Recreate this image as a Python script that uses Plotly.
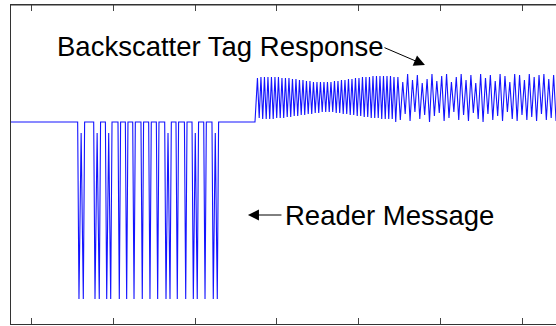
import plotly.graph_objects as go

# ---- data (time in arbitrary units, amplitude in arbitrary units) ----
t_start = 75.0
t_end = 741.3
level_idle = 2.02          # carrier level when idle
level_low = 0.25           # bottom of reader dips
level_mid = 1.91           # rebound inside wide dips

# reader message dips: (first stroke time, second stroke time or None)
reader_dips = [
    (158.1, 163.4), (177.7, 182.9), (192.0, 196.9), (207.4, None), (216.4, None),
    (225.4, None), (235.5, None), (244.9, None), (254.3, None), (264.5, 269.4),
    (278.3, None), (288.6, None), (297.9, 302.7), (312.2, None), (322.3, 327.2),
]
dip_half = 1.6

tag_start = 373.3
# segment A (dense subcarrier)
A_t0, A_period = 376.3, 4.28
A_peaks = [2.46, 2.47, 2.47, 2.47, 2.47, 2.47, 2.47, 2.46, 2.46, 2.46, 2.45, 2.45, 2.44, 2.44,
           2.43, 2.43, 2.42, 2.42, 2.42, 2.42, 2.42, 2.42, 2.43, 2.43, 2.44, 2.44, 2.45, 2.45,
           2.46, 2.46, 2.47, 2.47, 2.47, 2.48, 2.48, 2.48, 2.48, 2.48, 2.48, 2.47]
A_troughs = [2.06, 2.05, 2.05, 2.05, 2.05, 2.06, 2.06, 2.06, 2.07, 2.07, 2.08, 2.08, 2.09, 2.09,
             2.10, 2.10, 2.11, 2.11, 2.12, 2.12, 2.12, 2.12, 2.11, 2.11, 2.10, 2.10, 2.09, 2.09,
             2.08, 2.08, 2.07, 2.07, 2.06, 2.06, 2.06, 2.05, 2.05, 2.05, 2.05, 2.02]
# segment B (irregular)
B_t0, B_period = 548.0, 5.95
B_peaks = [2.47, 2.42, 2.50, 2.44, 2.49, 2.41, 2.45, 2.50, 2.43, 2.48, 2.50, 2.42, 2.47, 2.50,
           2.44, 2.49, 2.41, 2.50, 2.46, 2.49, 2.43, 2.50, 2.48, 2.42, 2.50, 2.49, 2.44, 2.50,
           2.47, 2.49, 2.50, 2.45, 2.49]
B_troughs = [2.04, 2.10, 2.03, 2.12, 2.05, 2.09, 2.02, 2.08, 2.11, 2.03, 2.06, 2.12, 2.04, 2.09,
             2.03, 2.11, 2.05, 2.02, 2.10, 2.04, 2.08, 2.03, 2.12, 2.05, 2.03, 2.09, 2.04, 2.07,
             2.03, 2.10, 2.04, 2.06, 2.03]

x_ticks = [100, 200, 300, 400, 500, 600, 700]

# ---- build the trace ----
xs, ys = [t_start], [level_idle]
for a, b in reader_dips:
    if b is None:
        xs += [a - dip_half, a, a + dip_half]
        ys += [level_idle, level_low, level_idle]
    else:
        xs += [a - dip_half, a, (a + b) / 2, b, b + dip_half]
        ys += [level_idle, level_low, level_mid, level_low, level_idle]
xs.append(tag_start)
ys.append(level_idle)
for i, (p, q) in enumerate(zip(A_peaks, A_troughs)):
    t = A_t0 + i * A_period
    xs += [t, t + A_period / 2]
    ys += [p, q]
for i, (p, q) in enumerate(zip(B_peaks, B_troughs)):
    t = B_t0 + i * B_period
    xs += [t, t + B_period / 2]
    ys += [p, q]

fig = go.Figure()
fig.add_trace(go.Scatter(x=xs, y=ys, mode="lines",
                         line=dict(color="rgb(20,20,255)", width=1.1), hoverinfo="skip"))

font = dict(family="Liberation Sans, Arial, sans-serif", size=27.5, color="black")
fig.add_annotation(x=129, y=2.78, xref="x", yref="y", text="Backscatter Tag Response",
                   showarrow=False, xanchor="left", yanchor="middle", font=font)
fig.add_annotation(x=408, y=1.09, xref="x", yref="y", text="Reader Message",
                   showarrow=False, xanchor="left", yanchor="middle", font=font)
fig.add_annotation(x=581.1, y=2.59, ax=529.8, ay=2.77, xref="x", yref="y", axref="x", ayref="y",
                   text="", showarrow=True, arrowhead=2, arrowsize=2.2, arrowwidth=1,
                   arrowcolor="black", standoff=0, startstandoff=0)
fig.add_annotation(x=364.7, y=1.09, ax=407.5, ay=1.09, xref="x", yref="y", axref="x", ayref="y",
                   text="", showarrow=True, arrowhead=2, arrowsize=2.2, arrowwidth=1,
                   arrowcolor="black", standoff=0, startstandoff=0)

# top border of the axes box
fig.add_shape(type="line", xref="paper", yref="paper", x0=0, x1=1, y0=1, y1=1,
              line=dict(color="#333333", width=1), layer="above")

fig.update_xaxes(range=[t_start, t_end], tickvals=x_ticks, showticklabels=False,
                 ticks="inside", ticklen=6, tickcolor="#444", showline=True, linecolor="#333",
                 linewidth=1, mirror="ticks", showgrid=False, zeroline=False)
fig.update_yaxes(range=[0, 3.19], tickvals=[0], showticklabels=False, ticks="inside",
                 ticklen=5, tickcolor="#888", showline=True, linecolor="#333", linewidth=1,
                 mirror=False, showgrid=False, zeroline=False)
fig.update_layout(width=556, height=326, margin=dict(l=11, r=0, t=5, b=2),
                  paper_bgcolor="white", plot_bgcolor="white", showlegend=False)
fig.write_html("out.html", config={"displayModeBar": False},
               post_script="document.body.style.margin='0';document.body.style.overflow='hidden';")
